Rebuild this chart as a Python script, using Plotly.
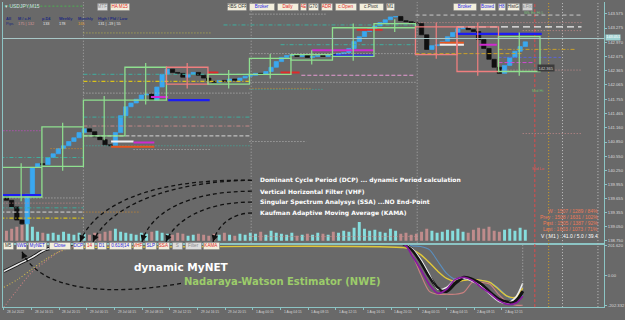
import plotly.graph_objects as go

W, H = 625, 320

# ---------------- data ----------------
first_open = 139.72
closes = [139.61, 139.47, 139.19, 139.11, 139.74, 140.31, 140.39, 140.37, 140.52, 140.60,
          140.71, 140.77, 140.86, 140.94, 141.05, 141.13, 141.07, 140.96, 140.90, 140.79,
          140.77, 141.05, 141.41, 141.60, 141.68, 141.76, 141.85, 141.87, 141.74, 142.02,
          142.29, 142.40, 142.33, 142.31, 142.23, 142.29, 142.33, 142.27, 142.21, 142.14,
          142.12, 142.16, 142.14, 142.19, 142.16, 142.21, 142.25, 142.27, 142.31, 142.29,
          142.35, 142.44, 142.56, 142.65, 142.69, 142.71, 142.67, 142.69, 142.65, 142.67,
          142.69, 142.67, 142.71, 142.69, 142.73, 142.75, 142.84, 142.99, 143.09, 143.20,
          143.26, 143.32, 143.39, 143.45, 143.51, 143.52, 143.43, 143.41, 143.39, 143.37,
          143.13, 142.82, 142.90, 142.92, 142.99, 143.09, 143.18, 143.26, 143.28, 143.24,
          143.20, 143.03, 142.84, 142.61, 142.44, 142.31, 142.48, 142.65, 142.78, 142.88,
          142.98]
volumes = [100, 120, 140, 160, 180, 140, 90, 80, 70, 80, 60, 90, 70, 60, 80, 70,
           60, 80, 70, 90, 100, 120, 90, 80, 70, 60, 80, 70, 90, 100, 80, 70,
           60, 80, 70, 50, 60, 70, 60, 50, 70, 60, 80, 60, 50, 70, 60, 80,
           70, 90, 60, 100, 80, 70, 60, 80, 50, 60, 70, 60, 80, 70, 60, 90,
           80, 100, 90, 130, 190, 120, 100, 110, 90, 80, 120, 100, 70, 80, 60, 70,
           90, 120, 100, 80, 90, 110, 100, 120, 90, 80, 110, 130, 120, 140, 100, 90,
           110, 120, 100, 130, 110]
bars_per_candle = 3

bid_price = 143.051
price_ticks = [143.575, 143.275, 142.970, 142.675, 142.365, 142.065, 141.755, 141.465, 141.160,
               140.850, 140.550, 140.250, 139.955, 139.655, 139.355, 139.050, 138.750]
x_tick_bars = [0, 16, 32, 48, 64, 80, 96, 112, 128, 144, 160, 176, 192, 208, 224, 240, 256, 272, 288]
x_tick_labels = ["28 Jul 2022", "28 Jul 16:15", "28 Jul 20:15", "29 Jul 00:15", "29 Jul 04:15",
                 "29 Jul 08:15", "29 Jul 12:15", "29 Jul 16:15", "29 Jul 20:15", "1 Aug 00:15",
                 "1 Aug 04:15", "1 Aug 08:15", "1 Aug 12:15", "1 Aug 16:15", "1 Aug 20:15",
                 "2 Aug 00:15", "2 Aug 04:15", "2 Aug 08:15", "2 Aug 12:15"]

# session boxes
box_start = [-2, 22, 46, 70, 94, 118, 142, 166, 190, 214, 238, 262, 286]
box_end = [22, 46, 70, 94, 118, 142, 166, 190, 214, 238, 262, 286, 310]
box_high = [140.31, 141.17, 141.74, 142.44, 142.44, 142.29, 142.63, 142.71, 143.28, 143.37, 143.30, 143.30, 143.09]
box_low = [139.68, 140.33, 140.98, 141.74, 142.08, 142.08, 142.29, 142.59, 142.67, 143.28, 142.71, 142.35, 142.35]
box_kind = ["g", "g", "g", "g", "p", "g", "g", "g", "g", "g", "p", "p", "g"]

# horizontal indicator levels
lvl_price = [143.74, 143.17, 143.57, 142.29, 142.14, 141.89, 141.38, 141.19, 140.98, 140.77,
             141.09, 140.52, 140.71, 139.66, 139.55, 139.45, 139.36, 139.23, 139.36,
             143.34, 142.92, 142.73, 142.27, 142.12, 141.99, 141.97, 140.86, 138.84,
             143.55, 143.39, 143.30, 143.22, 142.82, 142.65, 142.38, 142.54, 142.73, 141.03,
             139.72, 141.74, 141.81, 140.86, 140.84, 140.75, 140.69, 142.33, 142.33, 143.24,
             142.69, 142.80, 143.15, 142.96, 142.92, 142.92]
lvl_from = [-2, 46, 142, 46, 46, 46, 46, 46, 46, 46,
            -2, -2, 27, -2, -2, -2, -2, -2, 46,
            127, 160, 142, 172, 142, 142, 142, 142, 142,
            238, 238, 262, 300, 286, 286, 286, 286, 238, 300,
            -1, 95, 85, 62, 75, 62, 75, 118, 160, 204,
            190, 178, 262, 252, 252, 275]
lvl_to = [46, 120, 187, 142, 142, 142, 142, 142, 142, 142,
          22, 46, 46, 46, 46, 46, 46, 46, 79,
          238, 238, 238, 238, 238, 178, 185, 175, 239,
          334, 334, 334, 334, 331, 322, 334, 306, 300, 334,
          22, 119, 95, 75, 87, 87, 120, 124, 171, 219,
          214, 214, 311, 266, 266, 285]
lvl_kind = ["green_dot", "olive_dot", "gray_dot", "teal_dd", "yellow_dd", "gray_dot", "teal_dd", "rosy_dd", "lgray_dash", "teal_dot",
            "magenta_dot", "teal_dd", "orange_dot", "gray_dot", "rosy_dot", "teal_dd", "lgray_dash", "yellow_dd", "orange_dot",
            "teal_dd", "teal_dd", "gray_dot", "pink_dash", "gray_dot", "orange_dot", "teal_dot", "gray_dot", "rosy_dot",
            "gray_dash", "rosy_dot", "white_dash", "rosy_dot", "gold_dd", "blue_dash", "rosy_dot", "magenta_dash", "gold_dash", "rosy_dot",
            "blue_thick", "blue_thick", "magenta_thick", "white_thick", "magenta_thick", "orangered_thick", "gray_dot", "red_thick", "red_thick", "red_thick",
            "blue_thick", "magenta_thick", "blue_thick", "orangered_thick", "white_thick", "magenta_thick"]

day_separators = [46, 143, 239]
future_markers = [307, 315, 323, 343.5]
future_kind = ["red", "orange", "gray", "gray"]

# sub-panel (NWE / MyNET) series
sub_x = [0, 8, 16, 24, 32, 40, 231, 236, 241, 246, 251, 256, 261, 266, 271, 276, 281, 286, 291, 296, 300]
nwe_white = [27, 74, 121, 175, 195, 215, 215, 181, 108, 7, -94, -81, -27, -20, -40, -74, -128, -175, -188, -148, -54]
net_black = [27, 74, 121, 175, 195, 215, 215, 175, 94, -7, -87, -108, -54, -13, -27, -60, -114, -161, -181, -175, -108]
net_purple = [215, 215, 215, 215, 215, 215, 215, 134, 40, -61, -121, -94, -27, -13, -34, -81, -121, -168, -195, -188, -141]
sig_khaki = [-81, -27, 40, 108, 161, 188, 188, 175, 141, 87, 27, -20, -40, -34, -27, -34, -47, -94, -141, -148, -87]
sig_steel = [215, 215, 215, 215, 215, 215, 215, 200, 196, 175, 94, 13, -27, -27, -27, -34, -47, -87, -141, -175, -134]
sig_rosy = [-215, -94, 20, 94, 161, 195, 215, 141, 7, -108, -128, -128, -128, -114, -47, -47, -60, -128, -181, -202, -202]
sub_ticks = [201.62, 0.0, -202.332]
sub_tick_text = ["201.620", "0.00", "-202.332"]

stats_lines = ["W : 1507 / 1289 / 84%", "Prev : 1508 / 1631 / 102%", "Past : 1505 / 1387 / 92%",
               "Last : 1603 / 1073 / 71%", "V ( M1 ) : 41.0 / 5.0 / 39.4"]

# ---------------- styles / helpers ----------------
BG = "#696969"
FRAME = "#8cc4c4"
STY = {
    "teal_dd": ("#3fae9f", 1, "4px,2px,1px,2px"),
    "teal_dot": ("#3fae9f", 1, "1px,2px"),
    "yellow_dd": ("#d9c21a", 1.2, "4px,2px,1px,2px"),
    "gray_dot": ("#b8b8b8", 1, "1px,2px"),
    "lgray_dash": ("#d6d6d6", 1, "4px,2px"),
    "gray_dash": ("#c8c8c8", 1, "4px,3px"),
    "white_dash": ("#eeeeee", 1.3, "7px,4px"),
    "rosy_dd": ("#c58a8a", 1, "4px,2px,1px,2px"),
    "rosy_dot": ("#c58a8a", 1, "1px,2px"),
    "magenta_dot": ("#d048d0", 1, "1px,2px"),
    "magenta_dash": ("#d048d0", 1, "4px,2px"),
    "orange_dot": ("#d28a2a", 1, "1px,2px"),
    "pink_dash": ("#e59ad2", 1, "4px,2px"),
    "gold_dd": ("#c9a02a", 1, "4px,2px,1px,2px"),
    "gold_dash": ("#c9a02a", 1, "4px,2px"),
    "blue_dash": ("#5a64d8", 1, "3px,2px"),
    "green_dot": ("#4caf50", 1, "2px,2px"),
    "olive_dot": ("#b7b34a", 1, "1px,2px"),
    "blue_thick": ("#1d1df2", 2.2, "solid"),
    "magenta_thick": ("#d02ad0", 2, "solid"),
    "white_thick": ("#eeeeee", 2, "solid"),
    "orangered_thick": ("#e8551e", 2, "solid"),
    "red_thick": ("#e02a2a", 2, "solid"),
}
BOXC = {"g": "#8fe08f", "p": "#ef7f7f"}
FUTC = {"red": ("#e04a4a", "3px,2px"), "orange": ("#d9a020", "1px,2px"), "gray": ("#c0c0c0", "1px,2px")}


def px(x):
    return x / W


def py(y):
    return 1 - y / H


X_RANGE = [-0.5, 347]
MAIN_DOM = [1 - 243 / H, 1.0]
SUB_DOM = [1 - 308 / H, 1 - 245 / H]
PLOT_X = [3 / W, 604 / W]

# ---------------- figure ----------------
opens = [first_open] + closes[:-1]
cx = [bars_per_candle * k + 1.5 for k in range(len(closes))]
body = [c - o for o, c in zip(opens, closes)]
up = [c >= o for o, c in zip(opens, closes)]
candle_colors = ["#3aa8f0" if u else "#101010" for u in up]
vol_colors = ["#86dede" if u else "#bf8c8c" for u in up]

fig = go.Figure()

fig.add_trace(go.Bar(x=cx, y=volumes, marker=dict(color=vol_colors, line=dict(width=0)),
                     width=1.7, xaxis="x", yaxis="y", hoverinfo="skip"))

# Heiken-Ashi style bodies as floating bars (open -> close)
fig.add_trace(go.Bar(x=cx, y=body, base=opens, xaxis="x", yaxis="y3",
                     marker=dict(color=candle_colors, line=dict(color=candle_colors, width=0.7)),
                     width=2.5, hoverinfo="skip"))


def sub_line(xs, ys, color, width, dash="solid"):
    fig.add_trace(go.Scatter(x=xs, y=ys, mode="lines", xaxis="x2", yaxis="y2",
                             line=dict(color=color, width=width, dash=dash, shape="spline", smoothing=0.8),
                             hoverinfo="skip"))


sub_line(sub_x[:6], sig_rosy[:6], "#c98080", 1.1, "1px,2px")
sub_line(sub_x[5:], sig_rosy[5:], "#c98080", 1.1)
sub_line(sub_x, sig_steel, "#5a8fbf", 1.1)
sub_line(sub_x[:6], sig_khaki[:6], "#cdb64e", 1.1, "1px,2px")
sub_line(sub_x[5:], sig_khaki[5:], "#e0c83a", 1.4)
sub_line(sub_x, net_black, "#141414", 3.2)
sub_line(sub_x, nwe_white, "#eeeeee", 1.5)
sub_line(sub_x[6:], net_black[6:], "#141414", 1.6)
sub_line(sub_x, net_purple, "#8a1aa0", 1.7)

shapes = []
for b in day_separators:
    shapes.append(dict(type="line", xref="x", yref="paper", x0=b, x1=b, y0=MAIN_DOM[0], y1=MAIN_DOM[1],
                       line=dict(color="#a8a8a8", width=1, dash="1px,2px")))
for b, k in zip(future_markers, future_kind):
    c, d = FUTC[k]
    shapes.append(dict(type="line", xref="x", yref="paper", x0=b, x1=b, y0=SUB_DOM[0], y1=MAIN_DOM[1],
                       line=dict(color=c, width=1, dash=d)))
shapes.append(dict(type="line", xref="x2", yref="y2", x0=300, x1=300, y0=208, y1=-94,
                   line=dict(color="#b0b0b0", width=1, dash="1px,2px")))

for p, a, b, k in zip(lvl_price, lvl_from, lvl_to, lvl_kind):
    c, w, d = STY[k]
    shapes.append(dict(type="line", xref="x", yref="y3", x0=a, x1=b, y0=p, y1=p,
                       line=dict(color=c, width=w, dash=d)))

for a, b, hi, lo, k in zip(box_start, box_end, box_high, box_low, box_kind):
    shapes.append(dict(type="rect", xref="x", yref="y3", x0=a, x1=b, y0=lo, y1=hi,
                       line=dict(color=BOXC[k], width=1.3), fillcolor="rgba(0,0,0,0)"))
    m = (a + b) / 2
    shapes.append(dict(type="line", xref="x", yref="y3", x0=m, x1=m, y0=lo - 0.09, y1=hi + 0.09,
                       line=dict(color=BOXC[k], width=1.2)))

shapes.append(dict(type="line", xref="paper", yref="y3", x0=PLOT_X[0], x1=PLOT_X[1], y0=bid_price, y1=bid_price,
                   line=dict(color="#a9c9c9", width=1)))

curves = [
    ((252, 180), (150, 178), (95, 205), (80, 242)),
    ((252, 180), (165, 181), (108, 208), (93, 242)),
    ((252, 191), (185, 191), (150, 214), (142, 242)),
    ((252, 202), (205, 202), (175, 220), (166, 242)),
    ((252, 213), (232, 213), (218, 225), (213, 242)),
    ((181, 284), (110, 297), (40, 292), (22, 252)),
]
annotations = []
for p0, c1, c2, p1 in curves:
    path = "M {},{} C {},{} {},{} {},{}".format(px(p0[0]), py(p0[1]), px(c1[0]), py(c1[1]),
                                              px(c2[0]), py(c2[1]), px(p1[0]), py(p1[1]))
    shapes.append(dict(type="path", xref="paper", yref="paper", path=path,
                       line=dict(color="#111111", width=1.3, dash="4px,3px")))
    dx, dy = p1[0] - c2[0], p1[1] - c2[1]
    n = (dx * dx + dy * dy) ** 0.5
    annotations.append(dict(xref="paper", yref="paper", x=px(p1[0]), y=py(p1[1]), text="",
                            showarrow=True, arrowhead=2, arrowsize=1, arrowwidth=1.3, arrowcolor="#111111",
                            ax=-dx / n * 7, ay=-dy / n * 7, standoff=0))


def txt(x, y, s, color, size, anchor="left", family="Liberation Sans", bold=False):
    annotations.append(dict(xref="paper", yref="paper", x=px(x), y=py(y), text=("<b>%s</b>" % s) if bold else s,
                            showarrow=False, xanchor=anchor, yanchor="middle",
                            font=dict(color=color, size=size, family=family)))


def button(x0, x1, y0, y1, s, color, bg="#f2eedc"):
    annotations.append(dict(xref="paper", yref="paper", x=px((x0 + x1) / 2), y=py((y0 + y1) / 2), text=s,
                            showarrow=False, xanchor="center", yanchor="middle",
                            width=max(x1 - x0 - 1.5, 4), height=y1 - y0 - 1.5, borderpad=0,
                            bgcolor=bg, bordercolor="#7a7a7a", borderwidth=0.6,
                            font=dict(color=color, size=4.6, family="Liberation Sans")))


txt(3, 4, "▾ USDJPY,M15", "#cfe0e0", 5)
for x, s in [(4, "All"), (16, "M / c.H"), (40, "p.D4"), (57, "Weekly"), (76, "Monthly"), (96, "High / Pfd / Low")]:
    txt(x, 17, s, "#1e2a7e", 3.9, bold=True)
for x, s, c in [(4, "Pips", "#1e2a7e"), (16, "175 | 132", "#d89a9a"), (41, "133", "#e6e6e6"),
                (57, "178", "#e6e6e6"), (76, "165", "#e0a030"), (96, "131 | -19 | 55", "#e6e6e6")]:
    txt(x, 22, s, c, 3.9)

RED, BLUE, DARK, GRAY = "#e02828", "#2828e0", "#333333", "#8a8a8a"
for b in [(97, 108, "MTF", GRAY, "#dcdcdc"), (110, 130, "HA M15", RED, "#f2eedc"),
          (227, 247, "FIBS OFF", DARK, "#f2eedc"), (249, 275, "Broker", BLUE, "#f2eedc"),
          (277, 299, "Daily", RED, "#f2eedc"), (300, 307, "AE", RED, "#f2eedc"),
          (308, 319, "G70", DARK, "#f2eedc"), (321, 333, "ADR", RED, "#f2eedc"),
          (335, 357, "c.Open", RED, "#f2eedc"), (359, 384, "c.Pivot", DARK, "#f2eedc"),
          (386, 395, "M1", DARK, "#f2eedc"),
          (453, 477, "Broker", BLUE, "#f2eedc"), (480, 496, "Boxed", BLUE, "#f2eedc"),
          (498, 506, "H8", BLUE, "#f2eedc"), (507, 520, "HistG", DARK, "#f2eedc"),
          (522, 533, "s.Fix", GRAY, "#cfcfcf")]:
    button(b[0], b[1], 1, 9, b[2], b[3], b[4])
for b in [(3, 14, "M5", DARK, "#f2eedc"), (16, 27, "NWE", BLUE, "#f2eedc"), (28, 47, "MyNET", BLUE, "#f2eedc"),
          (49, 71, "Close", BLUE, "#f2eedc"), (73, 84, "DCP", BLUE, "#f2eedc"), (85, 95, "14", RED, "#f2eedc"),
          (97, 107, "D1", BLUE, "#f2eedc"), (109, 132, "0.618|14", BLUE, "#f2eedc"),
          (133, 143, "VHF", RED, "#f2eedc"), (145, 157, "SLP", BLUE, "#f2eedc"),
          (158, 170, "SSA", RED, "#f2eedc"), (172, 183, "S", GRAY, "#dcdcdc"),
          (185, 202, "Filter", GRAY, "#dcdcdc"), (203, 220, "KAMA", RED, "#f2eedc")]:
    button(b[0], b[1], 242, 250, b[2], b[3], b[4])

txt(258, 180, "Dominant Cycle Period (DCP) ... dynamic Period calculation", "#ffffff", 6, family="DejaVu Sans", bold=True)
txt(258, 191, "Vertical Horizontal Filter (VHF)", "#ffffff", 6, family="DejaVu Sans", bold=True)
txt(258, 202, "Singular Spectrum Analysys (SSA) ...NO End-Point", "#ffffff", 6, family="DejaVu Sans", bold=True)
txt(258, 213, "Kaufman Adaptive Moving Average (KAMA)", "#ffffff", 6, family="DejaVu Sans", bold=True)
txt(132, 268, "dynamic MyNET", "#ffffff", 10.5, family="DejaVu Sans", bold=True)
txt(182, 282, "Nadaraya-Watson Estimator (NWE)", "#9ccc6a", 10, family="DejaVu Sans", bold=True)

txt(522, 11, "Wk Ex Hi L", "#7cbf7c", 4)
txt(530, 89, "Mid Hi", "#6cbf6c", 4)
txt(530, 168, "Mid Lo", "#e05a5a", 4)
annotations.append(dict(xref="paper", yref="paper", x=px(537), y=py(67), text="142.365", showarrow=False,
                        xanchor="left", yanchor="middle", bgcolor="#3c3c3c", borderpad=0.5,
                        font=dict(color="#cfcfcf", size=4, family="Liberation Sans")))
for i, s in enumerate(stats_lines):
    txt(600, 211 + i * 6.2, s, "#ffffff" if i == 4 else "#ec7a58", 5, anchor="right")

annotations.append(dict(xref="paper", yref="y3", x=px(605), y=bid_price, text="143.051", showarrow=False,
                        xanchor="left", yanchor="middle", yshift=1.5, bgcolor="#9ed2d2", borderpad=0.3,
                        font=dict(color="#ffffff", size=3.8, family="Liberation Sans")))

for b, s in zip(x_tick_bars, x_tick_labels):
    annotations.append(dict(xref="x2", yref="paper", x=b + 0.6, y=py(312.5), text=s, showarrow=False,
                            xanchor="left", yanchor="middle",
                            font=dict(color="#d6d6d6", size=3.3, family="Liberation Sans")))

axis_common = dict(showgrid=False, zeroline=False, linecolor=FRAME, linewidth=1)
fig.update_layout(
    width=W, height=H, margin=dict(l=0, r=0, t=0, b=0),
    paper_bgcolor=BG, plot_bgcolor=BG, showlegend=False, hovermode=False,
    barmode="overlay",
    xaxis=dict(domain=PLOT_X, range=X_RANGE, anchor="y", showticklabels=False, showline=True, **axis_common),
    yaxis=dict(domain=MAIN_DOM, range=[-20, 2410], visible=False, showgrid=False, zeroline=False),
    yaxis3=dict(overlaying="y", anchor="x", side="right", range=[138.708, 143.828],
                tickmode="array", tickvals=price_ticks, ticktext=["%.3f" % v for v in price_ticks],
                ticks="outside", ticklen=2, tickcolor=FRAME, showline=True, mirror=True,
                tickfont=dict(color="#dcdcdc", size=4.2, family="Liberation Sans"), **axis_common),
    xaxis2=dict(domain=PLOT_X, range=X_RANGE, anchor="y2", matches="x", showticklabels=False,
                tickmode="array", tickvals=x_tick_bars, ticks="outside", ticklen=2, tickcolor=FRAME,
                showline=True, mirror=True, **axis_common),
    yaxis2=dict(domain=SUB_DOM, range=[-215, 208], anchor="x2", side="right",
                tickmode="array", tickvals=sub_ticks, ticktext=sub_tick_text,
                ticks="outside", ticklen=2, tickcolor=FRAME, showline=True, mirror=True,
                tickfont=dict(color="#dcdcdc", size=4.2, family="Liberation Sans"), **axis_common),
    shapes=shapes,
    annotations=annotations,
)

fig.write_html("out.html", config={"displayModeBar": False})
